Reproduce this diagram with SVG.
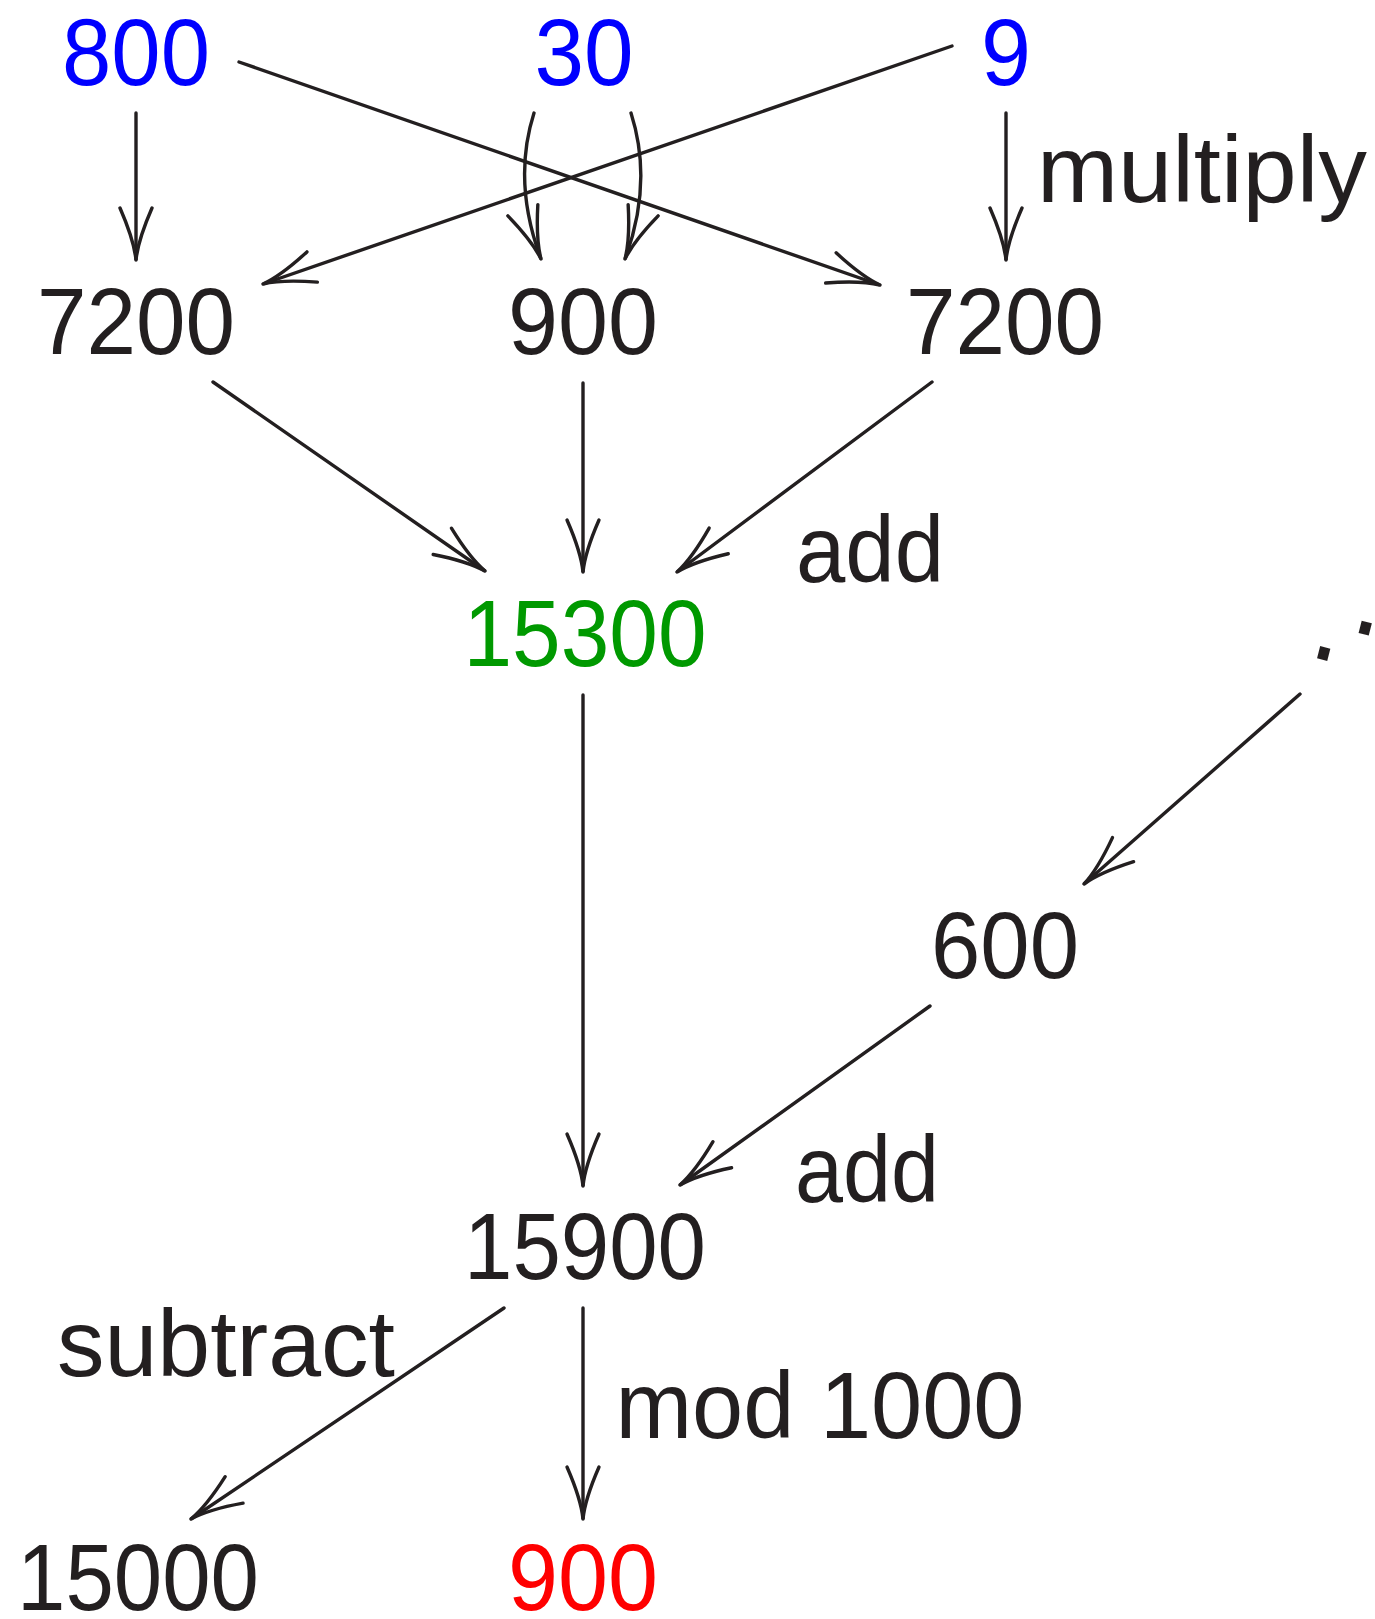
<svg xmlns="http://www.w3.org/2000/svg" width="1375" height="1619" viewBox="0 0 1375 1619">
<style>
.t{font-family:"Liberation Sans",Arial,sans-serif;font-size:94px;fill:#231f20;text-anchor:middle}
.b{fill:#0000ff}.g{fill:#009900}.r{fill:#ff0000}
.c path,.c line{stroke:#231f20;stroke-width:3.4;fill:none;stroke-linecap:round}
</style>
<defs>
<marker id="a" markerUnits="userSpaceOnUse" viewBox="-60 -20 64 40" markerWidth="64" markerHeight="40" refX="0" refY="0" orient="auto" overflow="visible">
<path d="M -52 -16 Q -20 -2 0 0 Q -20 2 -52 16" fill="none" stroke="#231f20" stroke-width="3.4" stroke-linecap="round"/>
</marker>
</defs>
<g id="n800"><text class="t b" x="136" y="85" textLength="148" lengthAdjust="spacingAndGlyphs">800</text></g>
<g id="n30"><text class="t b" x="584" y="85" textLength="99" lengthAdjust="spacingAndGlyphs">30</text></g>
<g id="n9"><text class="t b" x="1006" y="85" textLength="50" lengthAdjust="spacingAndGlyphs">9</text></g>
<g id="n7200a"><text class="t" x="136" y="354" textLength="198" lengthAdjust="spacingAndGlyphs">7200</text></g>
<g id="n900a"><text class="t" x="583" y="354" textLength="150" lengthAdjust="spacingAndGlyphs">900</text></g>
<g id="n7200b"><text class="t" x="1005" y="354" textLength="198" lengthAdjust="spacingAndGlyphs">7200</text></g>
<g id="n15300"><text class="t g" x="585" y="666" textLength="243" lengthAdjust="spacingAndGlyphs">15300</text></g>
<g id="ndots"><text transform="translate(1366,625) rotate(14.3) scale(0.85)" x="0" y="41" style="font-family:'DejaVu Sans',sans-serif;font-size:120px;fill:#231f20" text-anchor="middle">⋰</text></g>
<g id="n600"><text class="t" x="1005" y="978" textLength="148" lengthAdjust="spacingAndGlyphs">600</text></g>
<g id="n15900"><text class="t" x="585" y="1279" textLength="242" lengthAdjust="spacingAndGlyphs">15900</text></g>
<g id="n15000"><text class="t" x="138" y="1610" textLength="242" lengthAdjust="spacingAndGlyphs">15000</text></g>
<g id="n900b"><text class="t r" x="583" y="1610" textLength="150" lengthAdjust="spacingAndGlyphs">900</text></g>
<g id="labels">
<text class="t" x="1202" y="202" textLength="330" lengthAdjust="spacingAndGlyphs">multiply</text>
<text class="t" x="870" y="582" textLength="148" lengthAdjust="spacingAndGlyphs">add</text>
<text class="t" x="867" y="1202" textLength="144" lengthAdjust="spacingAndGlyphs">add</text>
<text class="t" x="226" y="1376" textLength="338" lengthAdjust="spacingAndGlyphs">subtract</text>
<text class="t" x="820" y="1438" textLength="409" lengthAdjust="spacingAndGlyphs">mod 1000</text>
</g>
<g id="connectors" class="c">
<line x1="136" y1="113" x2="136" y2="260" marker-end="url(#a)"/>
<line x1="239" y1="62" x2="880" y2="285" marker-end="url(#a)"/>
<line x1="952" y1="46" x2="263" y2="284" marker-end="url(#a)"/>
<path d="M 534 113 C 519 160 522 208 541 259" marker-end="url(#a)"/>
<path d="M 631 113 C 646 160 644 208 625 259" marker-end="url(#a)"/>
<line x1="1006" y1="113" x2="1006" y2="260" marker-end="url(#a)"/>
<line x1="213" y1="382" x2="485" y2="571" marker-end="url(#a)"/>
<line x1="583" y1="383" x2="583" y2="572" marker-end="url(#a)"/>
<line x1="932" y1="382" x2="677" y2="572" marker-end="url(#a)"/>
<line x1="1300" y1="694" x2="1084" y2="884" marker-end="url(#a)"/>
<line x1="583" y1="695" x2="583" y2="1186" marker-end="url(#a)"/>
<line x1="930" y1="1006" x2="680" y2="1185" marker-end="url(#a)"/>
<line x1="504" y1="1308" x2="191" y2="1519" marker-end="url(#a)"/>
<line x1="583" y1="1308" x2="583" y2="1519" marker-end="url(#a)"/>
</g>
</svg>
